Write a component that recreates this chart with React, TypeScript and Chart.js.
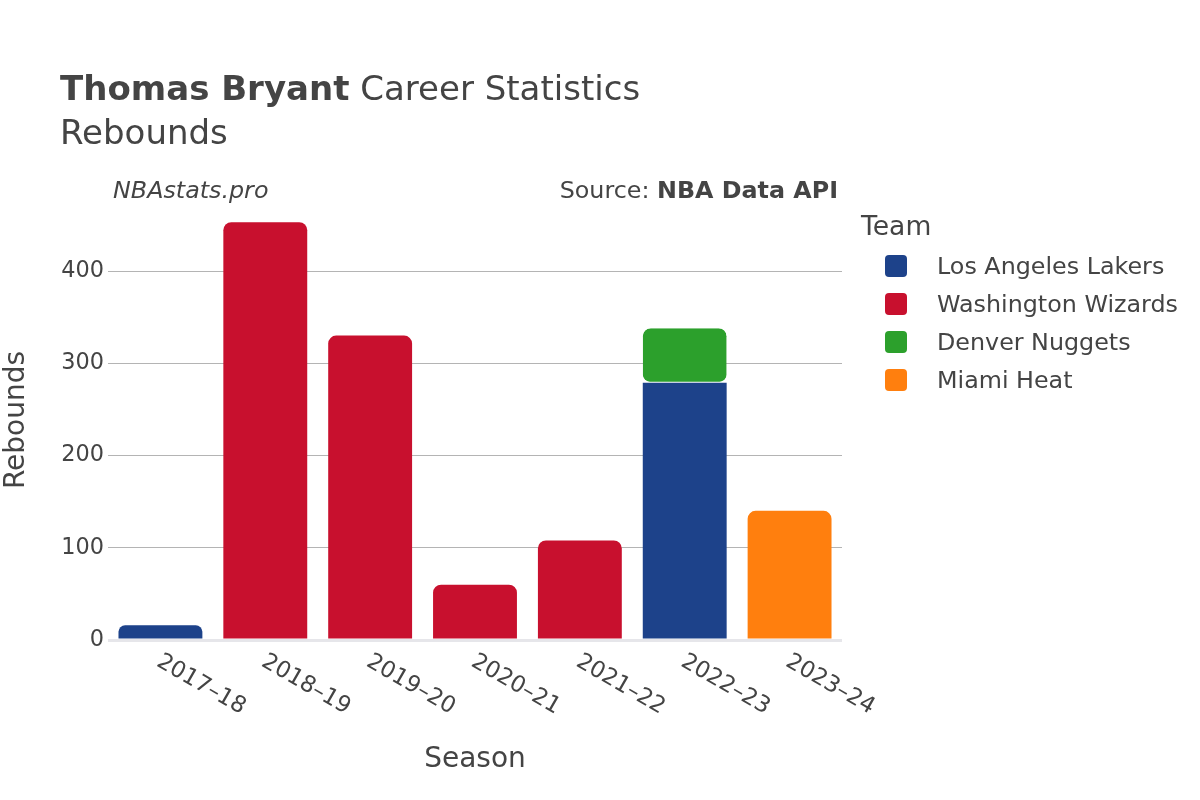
import React, { useEffect, useRef } from "react";
import { Chart, registerables } from "chart.js";

Chart.register(...registerables);

const seasons = ["2017–18", "2018–19", "2019–20", "2020–21", "2021–22", "2022–23", "2023–24"];
const teams = ["Los Angeles Lakers", "Washington Wizards", "Denver Nuggets", "Miami Heat"];
const teamColors = ["#1d428a", "#c8102e", "#2ca02c", "#ff7f0e"];
const lakers = [16, null, null, null, null, 279, null];
const wizards = [null, 453, 330, 60, 108, null, null];
const nuggets = [null, null, null, null, null, 59, null];
const heat = [null, null, null, null, null, null, 140];
const yTicks = [0, 100, 200, 300, 400];
const yMax = 477;

const titleBold = "Thomas Bryant";
const titleRest = " Career Statistics";
const subtitle = "Rebounds";
const watermark = "NBAstats.pro";
const sourceLabel = "Source: ";
const sourceName = "NBA Data API";
const xTitle = "Season";
const yTitle = "Rebounds";
const legendTitle = "Team";

const FONT = "'DejaVu Sans', sans-serif";
const TEXT = "#444";

const decorPlugin = {
  id: "decor",
  afterDraw(chart: any) {
    const ctx = chart.ctx as CanvasRenderingContext2D;
    const area = chart.chartArea;
    const xs = chart.scales.x;
    ctx.save();
    ctx.fillStyle = TEXT;
    ctx.textBaseline = "alphabetic";

    // title
    ctx.textAlign = "left";
    ctx.font = `bold 34px ${FONT}`;
    ctx.fillText(titleBold, 60, 100);
    const w = ctx.measureText(titleBold).width;
    ctx.font = `34px ${FONT}`;
    ctx.fillText(titleRest, 60 + w, 100);
    ctx.fillText(subtitle, 60, 144);

    // watermark + source
    ctx.textBaseline = "middle";
    ctx.font = `italic 23.8px ${FONT}`;
    ctx.fillText(watermark, 113, 192);
    ctx.font = `bold 23.8px ${FONT}`;
    const bw = ctx.measureText(sourceName).width;
    ctx.textAlign = "right";
    ctx.fillText(sourceName, 838, 192);
    ctx.font = `23.8px ${FONT}`;
    ctx.fillText(sourceLabel, 838 - bw, 192);

    // x tick labels rotated
    ctx.font = `22.8px ${FONT}`;
    ctx.textAlign = "left";
    ctx.textBaseline = "middle";
    seasons.forEach((s, i) => {
      const x = xs.getPixelForValue(i);
      ctx.save();
      ctx.translate(x - 2, area.bottom + 20);
      ctx.rotate(Math.PI / 6);
      ctx.fillText(s, 0, 0);
      ctx.restore();
    });

    // axis titles
    ctx.font = `28px ${FONT}`;
    ctx.textAlign = "center";
    ctx.fillText(xTitle, (area.left + area.right) / 2, 760);
    ctx.save();
    ctx.translate(17, (area.top + area.bottom) / 2);
    ctx.rotate(-Math.PI / 2);
    ctx.fillText(yTitle, 0, 0);
    ctx.restore();

    // legend
    ctx.textAlign = "left";
    ctx.font = `26.6px ${FONT}`;
    ctx.fillText(legendTitle, 861, 228);
    ctx.font = `23.8px ${FONT}`;
    chart.data.datasets.forEach((ds: any, i: number) => {
      const cy = 266 + i * 38;
      ctx.fillStyle = ds.backgroundColor;
      ctx.beginPath();
      (ctx as any).roundRect(885, cy - 11, 22, 22, 4);
      ctx.fill();
      ctx.fillStyle = TEXT;
      ctx.fillText(ds.label, 937, cy + 1.5);
    });
    ctx.restore();
  },
};

export default function App() {
  const ref = useRef<HTMLCanvasElement | null>(null);
  useEffect(() => {
    if (!ref.current) return;
    Chart.defaults.font.family = FONT;
    const series = [lakers, wizards, nuggets, heat];
    const chart = new Chart(ref.current, {
      type: "bar",
      data: {
        labels: seasons,
        datasets: teams.map((t, i) => ({
          label: t,
          data: series[i] as any,
          backgroundColor: teamColors[i],
          borderColor: "rgba(255,255,255,0.85)",
          borderWidth: i === 2 ? { top: 0, left: 0, right: 0, bottom: 1 } : 0,
          borderSkipped: i === 2 ? false : "start",
          borderRadius: 8,
          barPercentage: 0.8,
          categoryPercentage: 1,
        })),
      },
      options: {
        responsive: false,
        animation: false,
        devicePixelRatio: 1,
        layout: { padding: { left: 0, right: 358, top: 200, bottom: 160 } },
        plugins: { legend: { display: false }, tooltip: { enabled: false }, title: { display: false } },
        scales: {
          x: {
            stacked: true,
            display: false,
          },
          y: {
            stacked: true,
            min: 0,
            max: yMax,
            afterFit: (s: any) => {
              s.width = 108;
            },
            afterBuildTicks: (s: any) => {
              s.ticks = yTicks.map((v) => ({ value: v }));
            },
            border: { display: false },
            grid: {
              drawTicks: false,
              color: (c: any) => (c.tick && c.tick.value === 0 ? "#e6e6ea" : "#b4b4b4"),
              lineWidth: (c: any) => (c.tick && c.tick.value === 0 ? 3 : 1),
            },
            ticks: {
              padding: 4,
              color: TEXT,
              font: { size: 22.4, family: FONT },
            },
          },
        },
      },
      plugins: [decorPlugin],
    });
    return () => chart.destroy();
  }, []);
  return (
    <div style={{ position: "fixed", left: 0, top: 0, width: 1200, height: 800, background: "#fff" }}>
      <canvas ref={ref} width={1200} height={800} />
    </div>
  );
}
